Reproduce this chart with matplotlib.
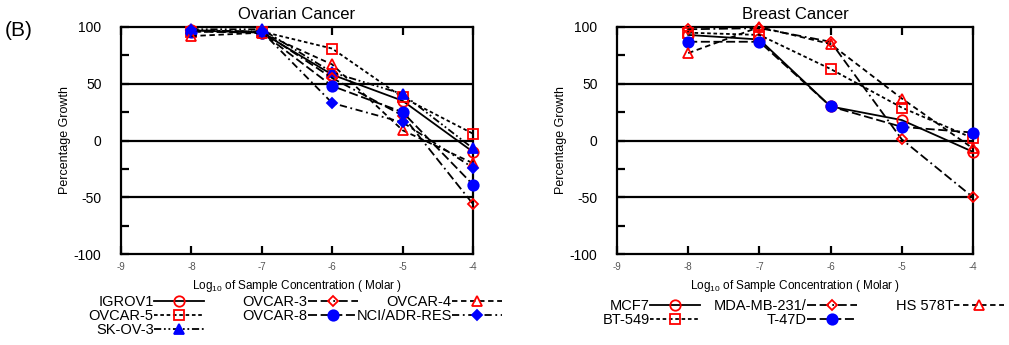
import numpy as np
import matplotlib
matplotlib.use('Agg')
import matplotlib.pyplot as plt

plt.rcParams['font.family'] = ['Liberation Sans', 'DejaVu Sans']
plt.rcParams['axes.unicode_minus'] = False

# log10 concentrations
conc = [-8, -7, -6, -5, -4]

# Ovarian cancer panel
ov_names = ['IGROV1', 'OVCAR-5', 'SK-OV-3', 'OVCAR-3', 'OVCAR-8', 'OVCAR-4', 'NCI/ADR-RES']
igrov1 = [97, 95, 58, 35, -10]
ovcar5 = [96, 96, 81, 38, 6]
skov3 = [98, 98, 60, 41, -7]
ovcar3 = [97, 96, 55, 22, -56]
ovcar8 = [96, 95, 48, 25, -39]
ovcar4 = [92, 95, 67, 9, -20]
nci_adr = [97, 96, 33, 16, -24]

# Breast cancer panel
br_names = ['MCF7', 'BT-549', 'MDA-MB-231/', 'T-47D', 'HS 578T']
mcf7 = [93, 89, 30, 18, -10]
bt549 = [95, 93, 63, 29, 2]
mda231 = [98, 99, 87, 1, -50]
t47d = [87, 87, 30, 12, 7]
hs578t = [77, 100, 85, 37, -7]

RED = '#ff0000'
BLUE = '#0000ff'

ov_series = [igrov1, ovcar5, skov3, ovcar3, ovcar8, ovcar4, nci_adr]
ov_styles = [
    ('-', 'o', RED, False),
    ((0, (2, 1.5)), 's', RED, False),
    ((0, (4, 1.5, 1, 1.5, 1, 1.5)), '^', BLUE, True),
    ((0, (5, 2, 5, 2, 1, 2)), 'D', RED, False),
    ((0, (5, 2)), 'o', BLUE, True),
    ((0, (3, 2)), '^', RED, False),
    ((0, (4, 2, 1, 2)), 'D', BLUE, True),
]
br_series = [mcf7, bt549, mda231, t47d, hs578t]
br_styles = [
    ('-', 'o', RED, False),
    ((0, (2, 1.5)), 's', RED, False),
    ((0, (5, 2, 5, 2, 1, 2)), 'D', RED, False),
    ((0, (5, 2)), 'o', BLUE, True),
    ((0, (3, 2)), '^', RED, False),
]

fig = plt.figure(figsize=(10.09, 3.45), dpi=100)
W, H = 1009.0, 345.0


def px_axes(x0, x1, y0, y1):
    return fig.add_axes([x0 / W, 1 - y1 / H, (x1 - x0) / W, (y1 - y0) / H])


def draw_panel(ax, title, series, styles, names):
    handles = []
    for vals, (ls, mk, col, filled), name in zip(series, styles, names):
        ms = 7.5 if mk != 'D' else 5.5
        h, = ax.plot(conc, vals, color='black', linestyle=ls, linewidth=1.3,
                     marker=mk, markersize=ms, markeredgecolor=col,
                     markerfacecolor=col if filled else 'none',
                     markeredgewidth=1.3, label=name, clip_on=False, zorder=3)
        handles.append(h)
    ax.set_xlim(-9, -4)
    ax.set_ylim(-100, 100)
    for yv in [50, 0, -50]:
        ax.axhline(yv, color='black', linewidth=1.6, zorder=1)
    ax.set_xticks(range(-9, -3))
    ax.set_xticklabels([str(v) for v in range(-9, -3)], fontsize=7, color='#555555')
    ax.set_yticks([-100, -50, 0, 50, 100])
    ax.set_yticks([-75, -25, 25, 75], minor=True)
    ax.tick_params(axis='y', which='both', direction='in', length=6, width=1.6,
                   labelsize=10, pad=14)
    ax.tick_params(axis='x', which='both', direction='in', length=6, width=1.6,
                   top=True, pad=6)
    for s in ax.spines.values():
        s.set_linewidth(1.6)
    ax.set_title(title, fontsize=12, pad=6)
    ax.set_ylabel('Percentage Growth', fontsize=9, labelpad=2)
    ax.set_xlabel('Log$\\mathregular{_{10}}$ of Sample Concentration ( Molar )',
                  fontsize=8.5, labelpad=4)
    return handles


def column_legend(handles, right_px, top_px):
    fig.legend(handles=handles, loc='upper right',
               bbox_to_anchor=(right_px / W, 1 - top_px / H),
               bbox_transform=fig.transFigure, frameon=False, markerfirst=False,
               fontsize=10.5, handlelength=3.4, handletextpad=0.05,
               labelspacing=0.0, borderpad=0, borderaxespad=0)


ax1 = px_axes(121, 473, 27, 254)
h1 = draw_panel(ax1, 'Ovarian Cancer', ov_series, ov_styles, ov_names)
ax2 = px_axes(617, 973, 27, 254)
h2 = draw_panel(ax2, 'Breast Cancer', br_series, br_styles, br_names)

column_legend(h1[0:3], 204, 295)
column_legend(h1[3:5], 358, 295)
column_legend(h1[5:7], 502, 295)
column_legend(h2[0:2], 700, 299)
column_legend(h2[2:4], 857, 299)
column_legend(h2[4:5], 1004, 299)

fig.text(5 / W, 1 - 30 / H, '(B)', fontsize=15, va='center', ha='left')

fig.savefig('out.png', dpi=100)
